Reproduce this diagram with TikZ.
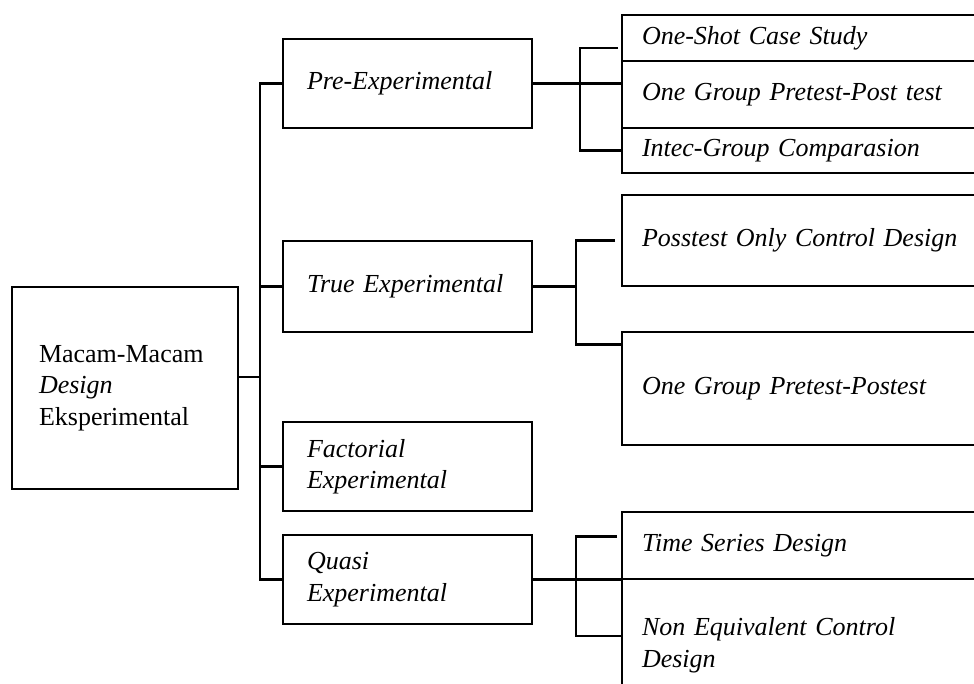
\documentclass[tikz,border=0pt]{standalone}
\usepackage{fontspec}
\setmainfont{Liberation Serif}
\usetikzlibrary{positioning}

\begin{document}
\begin{tikzpicture}[x=1pt, y=-1pt,
        mbox/.style = {draw, line width = 2.6pt, rectangle, outer sep = 0pt, inner ysep = 2pt, anchor = north west, align = left, font = \fontsize{26}{31.5}\selectfont\itshape},
        mmid/.style = {mbox, minimum width = 249pt, inner xsep = 24pt, text width = 201pt},
        msub/.style = {mbox, minimum width = 378pt, inner xsep = 20pt, text width = 338pt},
        mline/.style = {line width = 2.6pt}
        ]
    \useasboundingbox (0,0) rectangle (974,684);
    \clip (0,0) rectangle (974,684);

        % root
        \node[mbox, minimum width = 226pt, minimum height = 202pt, inner xsep = 27pt, text width = 172pt, font = \fontsize{26}{31.5}\selectfont] (root) at (12,287) {Macam-Macam\\\textit{Design}\\Eksperimental};

        % second level
        \node[mmid, minimum height = 89pt] (pre) at (283,39) {Pre-Experimental};
        \node[mmid, minimum height = 91pt] (true) at (283,241) {True Experimental};
        \node[mmid, minimum height = 89pt] (fact) at (283,422) {Factorial\\Experimental};
        \node[mmid, minimum height = 89pt] (quasi) at (283,535) {Quasi\\Experimental};

        % third level
        \node[msub, minimum height = 46pt] (osc) at (622,15) {One-Shot Case Study};
        \node[msub, minimum height = 67pt] (ogp) at (622,61) {One Group Pretest-Post test};
        \node[msub, minimum height = 45pt] (icg) at (622,128) {Intec-Group Comparasion};

        \node[msub, minimum height = 91pt] (pod) at (622,195) {Posstest Only Control Design};
        \node[msub, minimum height = 113pt] (ogp2) at (622,332) {One Group Pretest-Postest};

        \node[msub, minimum height = 67pt] (tsd) at (622,512) {Time Series Design};
        \node[msub, minimum height = 132pt] (nec) at (622,579) {Non Equivalent Control\\Design};

        % trunks
        \coordinate (tk) at (260,0);
        \coordinate (s1) at (580,0);
        \coordinate (s2) at (576,0);
        \coordinate (s3) at (576,0);

        \coordinate (r0) at ([yshift=11pt]root.east);
        \draw[mline] (r0) -- (r0 -| tk);
        \draw[mline] (pre.west) -| (tk |- quasi.west) -- (quasi.west);
        \foreach \n in {true,fact}
             \draw[mline] (\n.west) -- (\n.west -| tk);

        \draw[mline] (pre.east) -- (pre.east -| ogp.west);
        \coordinate (a1) at ([xshift=-4pt,yshift=-10pt]osc.west);
        \draw[mline] (a1) -| (s1 |- icg.west) -- (icg.west);

        \draw[mline] (true.east) -- (true.east -| s2);
        \coordinate (a2) at ([xshift=-7pt]pod.west);
        \coordinate (b2) at ([yshift=44pt]ogp2.west);
        \draw[mline] (a2) -| (s2 |- b2) -- (b2);

        \draw[mline] (quasi.east) -- (quasi.east -| tsd.west);
        \coordinate (a3) at ([xshift=-5pt,yshift=9pt]tsd.west);
        \coordinate (b3) at ([yshift=9pt]nec.west);
        \draw[mline] (a3) -| (s3 |- b3) -- (b3);

    \end{tikzpicture}
\end{document}
